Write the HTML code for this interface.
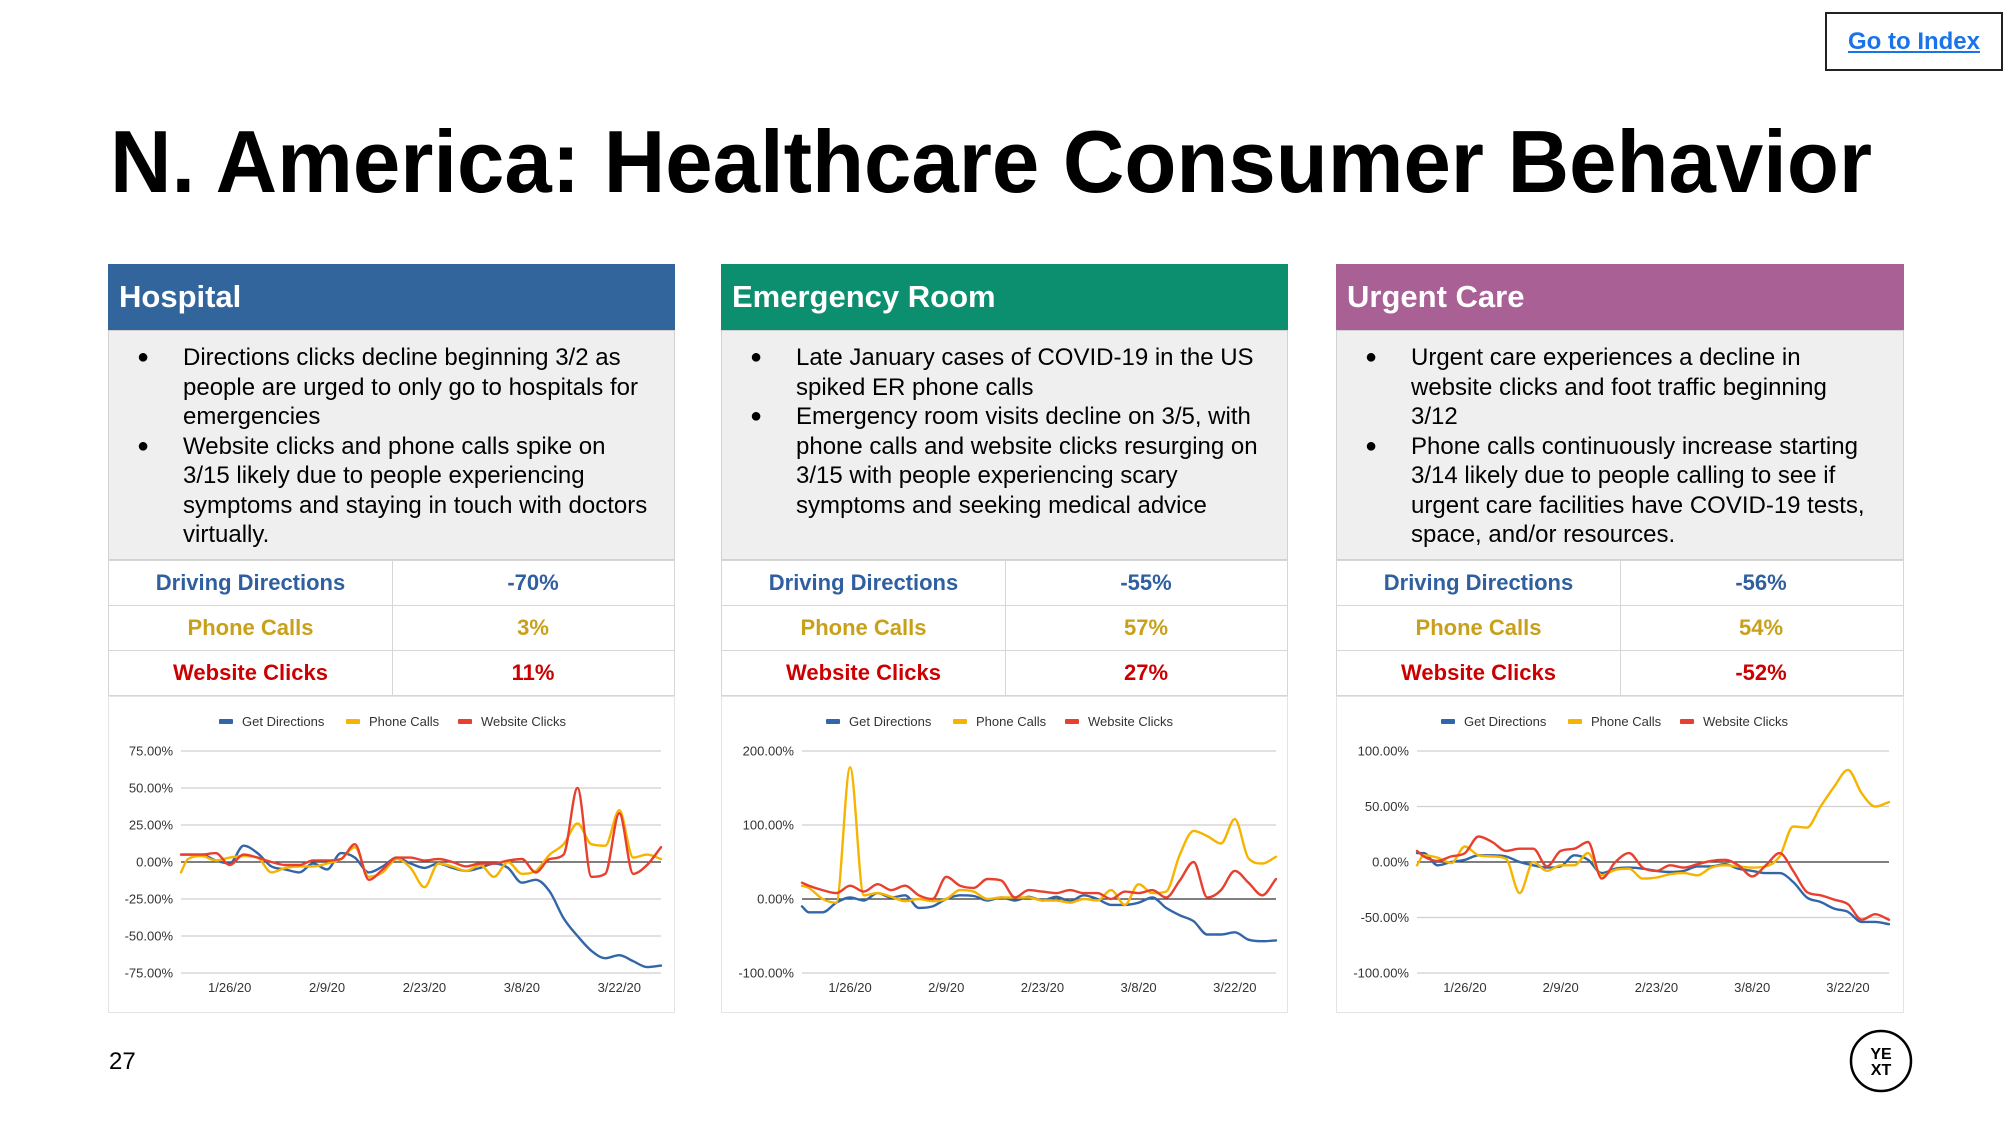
<!DOCTYPE html>
<html><head><meta charset="utf-8">
<style>
body{margin:0;width:2009px;height:1125px;background:#fff;position:relative;overflow:hidden;font-family:"Liberation Sans",Arial,sans-serif;}
.abs{position:absolute;}
.panel{position:absolute;top:264px;width:567px;height:749px;}
.hdr{position:absolute;left:0;top:0;width:100%;height:66px;color:#fff;font-weight:bold;font-size:31px;line-height:66px;box-sizing:border-box;padding-left:11px;}
.body{position:absolute;left:0;top:66px;width:100%;height:230px;background:#efefef;border:1px solid #d2d2d2;box-sizing:border-box;}
.ln{position:absolute;left:74px;font-size:24px;line-height:29.5px;color:#000;white-space:nowrap;}
.bul{position:absolute;left:28px;font-size:20px;line-height:29.5px;}
.tbl{position:absolute;left:0;top:296px;width:100%;}
.row{position:absolute;left:0;width:100%;height:46px;border:1px solid #d6d6d6;box-sizing:border-box;background:#fff;}
.c1,.c2{position:absolute;top:0;height:44px;line-height:44px;text-align:center;font-weight:bold;font-size:22px;}
.c1{left:0;width:283px;border-right:1px solid #d6d6d6;}
.c2{left:283px;width:282px;}
.chart{position:absolute;left:0;top:432px;width:100%;height:317px;border:1px solid #e4e4e4;box-sizing:border-box;background:#fff;}
</style></head><body>
<div class="abs" style="left:1825px;top:12px;width:174px;height:55px;border:2px solid #222;text-align:center;line-height:55px;font-weight:bold;font-size:24px;color:#1a73e8;text-decoration:underline;">Go to Index</div>
<svg class="abs" style="left:0;top:90px" width="2009" height="120"><text x="110" y="102" font-family="Liberation Sans, Arial, sans-serif" font-weight="bold" font-size="88" textLength="1762" lengthAdjust="spacingAndGlyphs" fill="#000">N. America: Healthcare Consumer Behavior</text></svg>

<!-- Hospital -->
<div class="panel" style="left:108px">
<div class="hdr" style="background:#31659b">Hospital</div>
<div class="body">
<div class="bul" style="top:12px">●</div>
<div class="ln" style="top:12px">Directions clicks decline beginning 3/2 as</div>
<div class="ln" style="top:41.5px">people are urged to only go to hospitals for</div>
<div class="ln" style="top:71px">emergencies</div>
<div class="bul" style="top:100.5px">●</div>
<div class="ln" style="top:100.5px">Website clicks and phone calls spike on</div>
<div class="ln" style="top:130px">3/15 likely due to people experiencing</div>
<div class="ln" style="top:159.5px">symptoms and staying in touch with doctors</div>
<div class="ln" style="top:189px">virtually.</div>
</div>
<div class="tbl">
<div class="row" style="top:0"><div class="c1" style="color:#2f5f9f">Driving Directions</div><div class="c2" style="color:#2f5f9f">-70%</div></div>
<div class="row" style="top:45px"><div class="c1" style="color:#c9a01a">Phone Calls</div><div class="c2" style="color:#c9a01a">3%</div></div>
<div class="row" style="top:90px"><div class="c1" style="color:#cc0000">Website Clicks</div><div class="c2" style="color:#cc0000">11%</div></div>
</div>
<div class="chart"><svg id="ch0" width="567" height="317"></svg></div>
</div>

<!-- ER -->
<div class="panel" style="left:721px">
<div class="hdr" style="background:#0b8f6f">Emergency Room</div>
<div class="body">
<div class="bul" style="top:12px">●</div>
<div class="ln" style="top:12px">Late January cases of COVID-19 in the US</div>
<div class="ln" style="top:41.5px">spiked ER phone calls</div>
<div class="bul" style="top:71px">●</div>
<div class="ln" style="top:71px">Emergency room visits decline on 3/5, with</div>
<div class="ln" style="top:100.5px">phone calls and website clicks resurging on</div>
<div class="ln" style="top:130px">3/15 with people experiencing scary</div>
<div class="ln" style="top:159.5px">symptoms and seeking medical advice</div>
</div>
<div class="tbl">
<div class="row" style="top:0"><div class="c1" style="color:#2f5f9f">Driving Directions</div><div class="c2" style="color:#2f5f9f">-55%</div></div>
<div class="row" style="top:45px"><div class="c1" style="color:#c9a01a">Phone Calls</div><div class="c2" style="color:#c9a01a">57%</div></div>
<div class="row" style="top:90px"><div class="c1" style="color:#cc0000">Website Clicks</div><div class="c2" style="color:#cc0000">27%</div></div>
</div>
<div class="chart"><svg id="ch1" width="568" height="317"></svg></div>
</div>

<!-- Urgent Care -->
<div class="panel" style="left:1336px;width:568px">
<div class="hdr" style="background:#a86095">Urgent Care</div>
<div class="body">
<div class="bul" style="top:12px">●</div>
<div class="ln" style="top:12px">Urgent care experiences a decline in</div>
<div class="ln" style="top:41.5px">website clicks and foot traffic beginning</div>
<div class="ln" style="top:71px">3/12</div>
<div class="bul" style="top:100.5px">●</div>
<div class="ln" style="top:100.5px">Phone calls continuously increase starting</div>
<div class="ln" style="top:130px">3/14 likely due to people calling to see if</div>
<div class="ln" style="top:159.5px">urgent care facilities have COVID-19 tests,</div>
<div class="ln" style="top:189px">space, and/or resources.</div>
</div>
<div class="tbl">
<div class="row" style="top:0"><div class="c1" style="color:#2f5f9f">Driving Directions</div><div class="c2" style="color:#2f5f9f">-56%</div></div>
<div class="row" style="top:45px"><div class="c1" style="color:#c9a01a">Phone Calls</div><div class="c2" style="color:#c9a01a">54%</div></div>
<div class="row" style="top:90px"><div class="c1" style="color:#cc0000">Website Clicks</div><div class="c2" style="color:#cc0000">-52%</div></div>
</div>
<div class="chart"><svg id="ch2" width="568" height="317"></svg></div>
</div>

<div class="abs" style="left:109px;top:1048px;font-size:24px;color:#000">27</div>
<svg class="abs" style="left:1848px;top:1028px" width="66" height="66">
<circle cx="33" cy="33" r="30" fill="#fff" stroke="#000" stroke-width="2.5"/>
<text x="33" y="31" text-anchor="middle" font-family="Liberation Sans, Arial, sans-serif" font-weight="bold" font-size="16" fill="#000">YE</text>
<text x="33" y="47" text-anchor="middle" font-family="Liberation Sans, Arial, sans-serif" font-weight="bold" font-size="16" fill="#000">XT</text>
</svg>

<script>
// day offsets from 1/19/20
const days = [0,1,3,5,7,9,11,13,15,17,19,21,23,25,27,29,31,33,35,37,39,41,43,45,47,49,51,53,55,57,59,61,63,65,67,69];
const tickDays = [7,21,35,49,63];
const tickLabels = ['1/26/20','2/9/20','2/23/20','3/8/20','3/22/20'];
const seriesNames = ['Get Directions','Phone Calls','Website Clicks'];

const hospDirections = [5,5,5,1,-1,11,6,-3,-5,-7,-1,-5,6,3,-7,-3,3,-1,-4,-1,-4,-6,-4,-1,-4,-14,-12,-20,-38,-50,-60,-65,-63,-67,-71,-70];
const hospPhone = [-7,2,4,1,3,4,3,-7,-4,-3,-3,-1,2,10,-10,-7,2,-4,-17,-1,-3,-6,-2,-10,0,-8,-6,5,12,26,12,11,35,3,5,2];
const hospWeb = [5,5,5,6,-2,5,3,0,-2,-2,1,1,2,12,-12,-5,3,3,1,2,0,-3,-1,-1,1,2,-7,2,5,50,-10,-8,33,-8,-2,10];
const hospYTicks = [75,50,25,0,-25,-50,-75];

const erDirections = [-10,-18,-18,-5,2,-2,8,2,5,-12,-10,0,5,4,-2,2,-2,3,-2,3,-3,5,0,-8,-8,-5,2,-12,-22,-30,-48,-48,-45,-55,-57,-56];
const erPhone = [18,15,0,-5,178,5,8,3,-3,0,-3,0,12,10,0,2,2,2,-2,-2,-5,0,-2,12,-8,20,8,10,60,92,85,75,108,55,48,57];
const erWeb = [22,18,12,8,18,10,20,12,18,5,0,30,18,15,27,25,2,12,10,8,12,8,8,0,10,8,12,2,25,50,2,12,38,22,5,27];
const erYTicks = [200,100,0,-100];

const ucDirections = [8,8,-3,0,2,6,6,5,0,-3,-5,-4,6,2,-10,-6,-5,-6,-8,-9,-8,-4,-4,-2,-6,-8,-10,-10,-18,-32,-36,-42,-45,-54,-54,-56];
const ucPhone = [-3,6,4,-1,14,6,5,3,-28,0,-8,-3,-3,8,-12,-7,-6,-15,-14,-11,-10,-12,-5,-3,-4,-5,-4,5,32,31,50,68,83,62,50,54];
const ucWeb = [10,5,1,5,8,23,18,10,12,12,-4,10,12,18,-15,0,8,-5,-8,-3,-5,-2,1,2,-3,-13,-3,8,-8,-27,-30,-34,-38,-52,-47,-52];
const ucYTicks = [100,50,0,-50,-100];

const colors = ['#3366a8','#f6b400','#e8402f'];
const NS = 'http://www.w3.org/2000/svg';

function mk(tag, attrs, parent){
  const e = document.createElementNS(NS, tag);
  for (const k in attrs) e.setAttribute(k, attrs[k]);
  parent.appendChild(e);
  return e;
}
function monoPath(pts){
  const n = pts.length;
  if (n < 2) return '';
  const dx=[],dy=[],m=[];
  for(let i=0;i<n-1;i++){dx[i]=pts[i+1][0]-pts[i][0];dy[i]=pts[i+1][1]-pts[i][1];m[i]=dy[i]/dx[i];}
  const t=[m[0]];
  for(let i=1;i<n-1;i++){ t[i] = (m[i-1]*m[i]<=0)?0:(m[i-1]+m[i])/2; }
  t[n-1]=m[n-2];
  for(let i=0;i<n-1;i++){
    if(m[i]===0){t[i]=0;t[i+1]=0;continue;}
    const a=t[i]/m[i], b=t[i+1]/m[i], s=a*a+b*b;
    if(s>9){const k=3/Math.sqrt(s);t[i]=k*a*m[i];t[i+1]=k*b*m[i];}
  }
  let d='M'+pts[0][0].toFixed(1)+','+pts[0][1].toFixed(1);
  for(let i=0;i<n-1;i++){
    const h=dx[i]/3;
    d+=' C'+(pts[i][0]+h).toFixed(1)+','+(pts[i][1]+t[i]*h).toFixed(1)+' '+(pts[i+1][0]-h).toFixed(1)+','+(pts[i+1][1]-t[i+1]*h).toFixed(1)+' '+pts[i+1][0].toFixed(1)+','+pts[i+1][1].toFixed(1);
  }
  return d;
}

function drawChart(id, series, yTicks, L, R, legendX, prefix){
  const svg = document.getElementById(id);
  const top = 54, bottom = 276;
  const yMax = yTicks[0], yMin = yTicks[yTicks.length-1];
  const y = v => top + (yMax - v) / (yMax - yMin) * (bottom - top);
  const x = d => L + d / 69 * (R - L);
  yTicks.forEach(v => {
    const g = mk('line',{x1:L,x2:R,y1:y(v),y2:y(v),stroke:v===0?'#333':'#cfcfcf','stroke-width':v===0?1.3:1.2},svg);
    
    
    const t = mk('text',{x:L-8,y:y(v)+4.5,'text-anchor':'end','font-size':13,fill:'#333','font-family':'Liberation Sans, Arial, sans-serif'},svg);
    t.textContent = v.toFixed(2)+'%';
    
    
  });
  tickDays.forEach((d,i) => {
    const t = mk('text',{x:x(d),y:295,'text-anchor':'middle','font-size':13,fill:'#333','font-family':'Liberation Sans, Arial, sans-serif'},svg);
    t.textContent = tickLabels[i];
    
    
  });
  const offs = [0,127,239];
  seriesNames.forEach((nm,i) => {
    const g = mk('g',{},svg);
    
    
    mk('rect',{x:legendX+offs[i],y:22,width:14,height:5,rx:1,fill:colors[i]},g);
    const t = mk('text',{x:legendX+offs[i]+23,y:29,'font-size':13,fill:'#333','font-family':'Liberation Sans, Arial, sans-serif'},g);
    t.textContent = nm;
  });
  series.forEach((vals,i) => {
    const pts = vals.map((v,j) => [x(days[j]), y(v)]);
    const p = mk('path',{d:monoPath(pts),fill:'none',stroke:colors[i],'stroke-width':2.4,'stroke-linejoin':'round','stroke-linecap':'round'},svg);
    
    
  });
}

drawChart('ch0',[hospDirections,hospPhone,hospWeb],hospYTicks,72,552,110,'hospital');
drawChart('ch1',[erDirections,erPhone,erWeb],erYTicks,80,554,104,'er');
drawChart('ch2',[ucDirections,ucPhone,ucWeb],ucYTicks,80,552,104,'urgent-care');
</script>
</body></html>
